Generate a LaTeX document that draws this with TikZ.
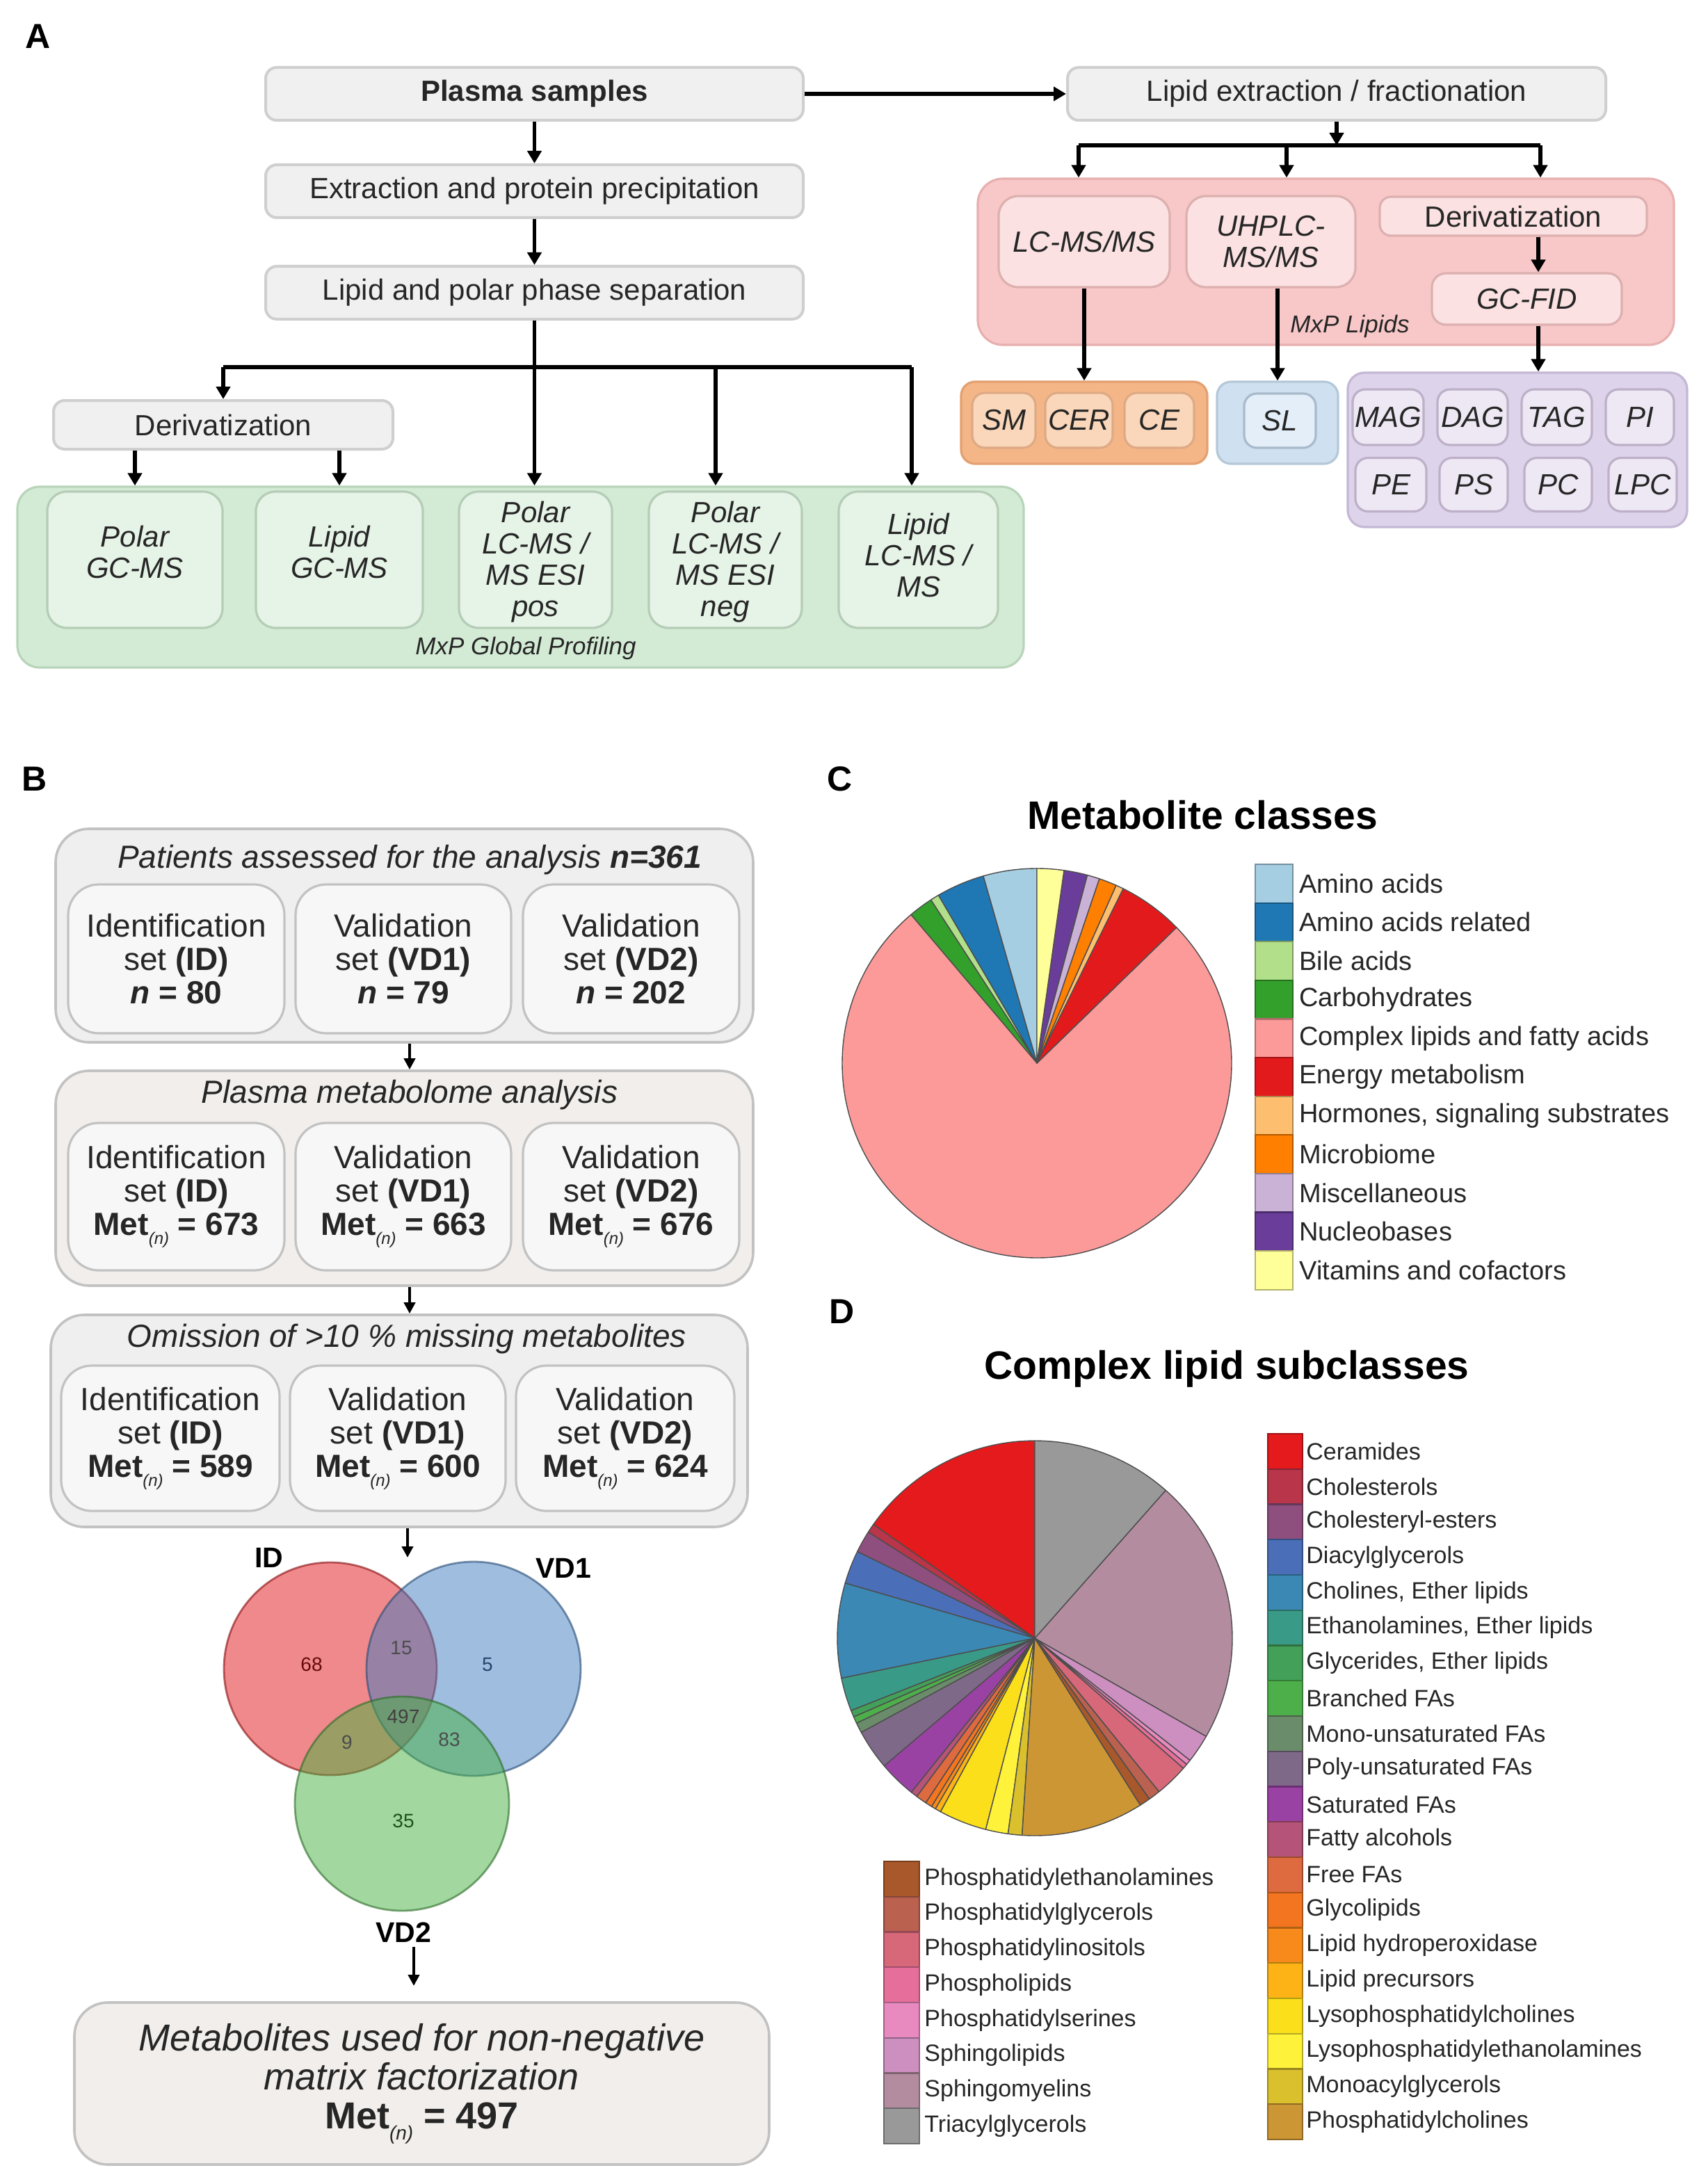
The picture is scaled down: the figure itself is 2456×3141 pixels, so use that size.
\documentclass[tikz,border=0pt]{standalone}
\usepackage{fontspec}
\setmainfont{Liberation Sans}
\usetikzlibrary{arrows.meta}

\definecolor{abfill}{HTML}{F0F0F0}
\definecolor{abdraw}{HTML}{CFCFCF}
\definecolor{greeno}{HTML}{D3EBD5}
\definecolor{greenod}{HTML}{B8D4BA}
\definecolor{greeni}{HTML}{E6F3E7}
\definecolor{greenid}{HTML}{B5CDB7}
\definecolor{pinko}{HTML}{F8C8C8}
\definecolor{pinkod}{HTML}{E8AFAF}
\definecolor{pinki}{HTML}{FBE1E1}
\definecolor{pinkid}{HTML}{DDB0B0}
\definecolor{orano}{HTML}{F5B687}
\definecolor{oranod}{HTML}{E3A070}
\definecolor{orani}{HTML}{FAD7BA}
\definecolor{oranid}{HTML}{DDAA85}
\definecolor{blueo}{HTML}{CFE1F1}
\definecolor{blueod}{HTML}{B5C8D8}
\definecolor{bluei}{HTML}{E3EEF8}
\definecolor{blueid}{HTML}{A8BACB}
\definecolor{purpo}{HTML}{DDD3EA}
\definecolor{purpod}{HTML}{C4B8D4}
\definecolor{purpi}{HTML}{EEE8F4}
\definecolor{purpid}{HTML}{BDB0C8}
\definecolor{bbfill}{HTML}{EFEFEF}
\definecolor{bbdraw}{HTML}{C2C2C2}
\definecolor{bifill}{HTML}{F7F7F7}
\definecolor{finfill}{HTML}{F1EEEB}
\definecolor{pieline}{HTML}{4D4D4D}
\definecolor{txt}{HTML}{262626}
% panel C
\definecolor{caa}{HTML}{A6CEE3}
\definecolor{car}{HTML}{1F78B4}
\definecolor{cba}{HTML}{B2DF8A}
\definecolor{cca}{HTML}{33A02C}
\definecolor{ccl}{HTML}{FB9A99}
\definecolor{cen}{HTML}{E31A1C}
\definecolor{cho}{HTML}{FDBF6F}
\definecolor{cmi}{HTML}{FF7F00}
\definecolor{cms}{HTML}{CAB2D6}
\definecolor{cnu}{HTML}{6A3D9A}
\definecolor{cvi}{HTML}{FFFF99}
% panel D
\definecolor{dce}{HTML}{E41A1C}
\definecolor{dch}{HTML}{B8354A}
\definecolor{dcs}{HTML}{8E4F7E}
\definecolor{dda}{HTML}{4A6FB8}
\definecolor{dcl}{HTML}{3A88B3}
\definecolor{det}{HTML}{3A9A88}
\definecolor{dgl}{HTML}{43A058}
\definecolor{dbr}{HTML}{4DAF4A}
\definecolor{dmo}{HTML}{6A8C6A}
\definecolor{dpo}{HTML}{7E6A88}
\definecolor{dsa}{HTML}{9A42A4}
\definecolor{dfa}{HTML}{B55478}
\definecolor{dff}{HTML}{DE6A40}
\definecolor{dgy}{HTML}{F47520}
\definecolor{dlh}{HTML}{F88A1C}
\definecolor{dlp}{HTML}{FDB216}
\definecolor{dlc}{HTML}{FBDF1A}
\definecolor{dle}{HTML}{FFF23A}
\definecolor{dma}{HTML}{D9C02C}
\definecolor{dpc}{HTML}{CC9634}
\definecolor{dpe}{HTML}{A8582A}
\definecolor{dpg}{HTML}{BA6150}
\definecolor{dpi}{HTML}{D7687A}
\definecolor{dph}{HTML}{E66E9A}
\definecolor{dps}{HTML}{E88AC0}
\definecolor{dsl}{HTML}{CC8FC0}
\definecolor{dsm}{HTML}{B38CA0}
\definecolor{dta}{HTML}{999999}
% venn
\definecolor{vid}{HTML}{E11519}
\definecolor{vvo}{HTML}{417DC1}
\definecolor{vvt}{HTML}{47B341}

\newcommand\zzA{\fontsize{21}{22.5}\selectfont}
\newcommand\zzAi{\fontsize{21}{22.5}\selectfont\itshape}
\newcommand\zzAs{\fontsize{17.5}{19}\selectfont\itshape}
\newcommand\zzB{\fontsize{23}{24}\selectfont}
\newcommand\zzBt{\fontsize{23}{24}\selectfont\itshape}
\newcommand\zzBf{\fontsize{27}{28}\selectfont}
\newcommand\zzV{\fontsize{14}{14}\selectfont}
\newcommand\zzVl{\fontsize{20.5}{21}\selectfont\bfseries}
\newcommand\zzT{\fontsize{28.5}{30}\selectfont\bfseries}
\newcommand\zzL{\fontsize{25}{26}\selectfont\bfseries}
\newcommand\zzC{\fontsize{19}{20}\selectfont}
\newcommand\zzD{\fontsize{17}{18}\selectfont}
\newcommand\zzmet{Met\raisebox{-0.55ex}{\fontsize{12}{12}\selectfont\mdseries\itshape(n)}}
\newcommand\zzmetb{Met\raisebox{-0.55ex}{\fontsize{14}{14}\selectfont\mdseries\itshape(n)}}

\begin{document}
\begin{tikzpicture}[x=0.5pt,y=-0.5pt,
  abox/.style={draw=abdraw, fill=abfill, line width=2pt, rounded corners=8pt, inner sep=0pt, align=center, text=txt, font=\zzA},
  ibox/.style={line width=1.6pt, rounded corners=14pt, inner sep=0pt, align=center, text=txt, font=\zzAi},
  gtxt/.style={inner sep=0pt, align=center, text=txt, font=\zzAi},
  cont/.style={line width=1.6pt, rounded corners=14pt, inner sep=0pt},
  arr/.style={line width=2.6pt, -{Triangle[length=9pt,width=10pt]}},
  ln/.style={line width=2.6pt},
  bouter/.style={draw=bbdraw, fill=bbfill, line width=1.8pt, rounded corners=24pt, inner sep=0pt},
  binn/.style={draw=bbdraw, fill=bifill, line width=1.6pt, rounded corners=22pt, inner sep=0pt, align=center, text=txt, font=\zzB},
  barr/.style={line width=2pt, -{Triangle[length=8pt,width=8pt]}},
  swatch/.style={line width=1.1pt},
  vnum/.style={font=\zzV, inner sep=0pt},
  vcirc/.style={circle, inner sep=0pt, fill opacity=0.5, draw opacity=0.6, line width=1.4pt},
  pl/.style={draw=pieline, line width=0.7pt, line join=round}
]
\useasboundingbox (0,0) rectangle (2456,3141);
\fill[white] (0,0) rectangle (2456,3141);

% ---------------- Panel labels ----------------
\node[font=\zzL] (labA) at (55,52) {A};
\node[font=\zzL] (labB) at (50,1120) {B};
\node[font=\zzL] (labC) at (1208,1120) {C};
\node[font=\zzL] (labD) at (1211,1886) {D};

% ---------------- Panel A, left ----------------
\node[abox, minimum width=386.5pt, minimum height=38pt] (plasma) at (768.5,135) {\textbf{Plasma samples}};
\node[abox, minimum width=386.5pt, minimum height=38pt] (extr) at (768.5,275) {Extraction and protein precipitation};
\node[abox, minimum width=386.5pt, minimum height=38pt] (phase) at (768.5,421) {Lipid and polar phase separation};
\node[abox, minimum width=244pt, minimum height=35pt] (derl) at (321,611) {Derivatization};

\node[cont, draw=greenod, fill=greeno, rounded corners=16pt, minimum width=723.5pt, minimum height=130pt] (green) at (748.5,830) {};
\node[ibox, draw=greenid, fill=greeni, minimum width=126pt, minimum height=98pt] (g1) at (194,805) {};
\node[ibox, draw=greenid, fill=greeni, minimum width=120pt, minimum height=98pt] (g2) at (488,805) {};
\node[ibox, draw=greenid, fill=greeni, minimum width=110pt, minimum height=98pt] (g3) at (770,805) {};
\node[ibox, draw=greenid, fill=greeni, minimum width=110pt, minimum height=98pt] (g4) at (1043,805) {};
\node[ibox, draw=greenid, fill=greeni, minimum width=114.5pt, minimum height=98pt] (g5) at (1320.5,805) {};
\node[gtxt] (g1t) at (194,794) {Polar\\GC-MS};
\node[gtxt] (g2t) at (488,794) {Lipid\\GC-MS};
\node[gtxt] (g3t) at (770,808) {Polar\\LC-MS /\\MS ESI\\pos};
\node[gtxt] (g4t) at (1043,808) {Polar\\LC-MS /\\MS ESI\\neg};
\node[gtxt] (g5t) at (1320.5,798) {Lipid\\LC-MS /\\MS};
\node[font=\zzAs, text=txt] (gprof) at (756,932) {MxP Global Profiling};

\draw[arr] (plasma) -- (extr);
\draw[arr] (extr) -- (phase);
\coordinate (bl) at (321,528);
\coordinate (b4) at (1029,528);
\coordinate (b5) at (1311,528);
\draw[ln] (bl) -- (b5);
\draw[arr] (phase.south) -- (phase.south |- green.north);
\draw[arr] (bl) -- (derl.north);
\draw[arr] (b4) -- (b4 |- green.north);
\draw[arr] (b5) -- (b5 |- green.north);
\draw[arr] (derl.south -| g1) -- (g1 |- green.north);
\draw[arr] (derl.south -| g2) -- (g2 |- green.north);

% ---------------- Panel A, right ----------------
\node[abox, minimum width=387pt, minimum height=38pt] (lipext) at (1922,135) {Lipid extraction / fractionation};
\draw[arr] (plasma) -- (lipext);

\node[cont, draw=pinkod, fill=pinko, rounded corners=18pt, minimum width=500.5pt, minimum height=119.5pt] (pink) at (1906.5,376.5) {};
\node[ibox, draw=pinkid, fill=pinki, minimum width=123pt, minimum height=65.5pt] (lcms) at (1559,347.5) {LC-MS/MS};
\node[ibox, draw=pinkid, fill=pinki, minimum width=121.5pt, minimum height=65.5pt] (uhplc) at (1827.5,347.5) {UHPLC-\\MS/MS};
\node[ibox, font=\zzA, draw=pinkid, fill=pinki, rounded corners=8pt, minimum width=192pt, minimum height=28pt] (derr) at (2176,311) {Derivatization};
\node[ibox, draw=pinkid, fill=pinki, rounded corners=10pt, minimum width=136.5pt, minimum height=37pt] (gcfid) at (2195.5,430) {GC-FID};
\node[font=\zzAs, text=txt] (mxpl) at (1941,469) {MxP Lipids};

\coordinate (r1) at (1551,209);
\coordinate (r2) at (1850,209);
\coordinate (r3) at (2215,209);
\draw[arr] (lipext.south) -- (lipext.south |- r1);
\draw[ln] (r1) -- (r3);
\draw[arr] (r1) -- (r1 |- pink.north);
\draw[arr] (r2) -- (r2 |- pink.north);
\draw[arr] (r3) -- (r3 |- pink.north);
\coordinate (gx) at (2212,0);

\node[cont, draw=oranod, fill=orano, rounded corners=10pt, minimum width=177pt, minimum height=59pt] (orng) at (1559,608) {};
\node[ibox, draw=oranid, fill=orani, rounded corners=9pt, minimum width=45.5pt, minimum height=39.5pt] (sm) at (1443.5,604.5) {SM};
\node[ibox, draw=oranid, fill=orani, rounded corners=9pt, minimum width=48.5pt, minimum height=39.5pt] (cer) at (1551.5,604.5) {CER};
\node[ibox, draw=oranid, fill=orani, rounded corners=9pt, minimum width=50pt, minimum height=39.5pt] (ce) at (1667,604.5) {CE};

\node[cont, draw=blueod, fill=blueo, rounded corners=10pt, minimum width=87pt, minimum height=59pt] (blu) at (1837,608) {};
\node[ibox, draw=blueid, fill=bluei, rounded corners=9pt, minimum width=51.5pt, minimum height=39pt] (sl) at (1840.5,605) {SL};

\node[cont, draw=purpod, fill=purpo, rounded corners=12pt, minimum width=244pt, minimum height=111pt] (purp) at (2182,647) {};
\node[ibox, draw=purpid, fill=purpi, rounded corners=9pt, minimum width=51pt, minimum height=40pt] (mag) at (1996,600) {MAG};
\node[ibox, draw=purpid, fill=purpi, rounded corners=9pt, minimum width=50.5pt, minimum height=40pt] (dag) at (2117.5,600) {DAG};
\node[ibox, draw=purpid, fill=purpi, rounded corners=9pt, minimum width=50.5pt, minimum height=40pt] (tag) at (2238.5,600) {TAG};
\node[ibox, draw=purpid, fill=purpi, rounded corners=9pt, minimum width=49pt, minimum height=40pt] (pi) at (2358,600) {PI};
\node[ibox, draw=purpid, fill=purpi, rounded corners=9pt, minimum width=51pt, minimum height=38.5pt] (pe) at (2000,697) {PE};
\node[ibox, draw=purpid, fill=purpi, rounded corners=9pt, minimum width=49pt, minimum height=38.5pt] (ps) at (2119,697) {PS};
\node[ibox, draw=purpid, fill=purpi, rounded corners=9pt, minimum width=48.5pt, minimum height=38.5pt] (pc) at (2240.5,697) {PC};
\node[ibox, draw=purpid, fill=purpi, rounded corners=9pt, minimum width=49pt, minimum height=38.5pt] (lpc) at (2362,697) {LPC};

\draw[arr] (derr.south -| gx) -- (gcfid.north -| gx);
\draw[arr] (lcms.south) -- (lcms.south |- orng.north);
\draw[arr] (blu.north |- uhplc.south) -- (blu.north);
\draw[arr] (gcfid.south -| gx) -- (purp.north -| gx);

% ---------------- Panel B ----------------
\node[bouter, minimum width=501.5pt, minimum height=153.5pt] (o1) at (581.5,1345.5) {};
\node[font=\zzBt, text=txt] (t1) at (589,1237) {Patients assessed for the analysis \textbf{n=361}};
\node[binn, minimum width=155.5pt, minimum height=107pt] (i11) at (253.5,1379) {Identification\\set \textbf{(ID)}\\\textbf{\textit{n} = 80}};
\node[binn, minimum width=155pt, minimum height=107pt] (i12) at (580,1379) {Validation\\set \textbf{(VD1)}\\\textbf{\textit{n} = 79}};
\node[binn, minimum width=155.5pt, minimum height=107pt] (i13) at (907.5,1379) {Validation\\set \textbf{(VD2)}\\\textbf{\textit{n} = 202}};

\node[bouter, fill=finfill, minimum width=501.5pt, minimum height=154.5pt] (o2) at (581.5,1694.5) {};
\node[font=\zzBt, text=txt] (t2) at (589,1575) {Plasma metabolome analysis};
\node[binn, minimum width=155.5pt, minimum height=106pt] (i21) at (253.5,1721) {Identification\\set \textbf{(ID)}\\\textbf{\zzmet{} = 673}};
\node[binn, minimum width=155pt, minimum height=106pt] (i22) at (580,1721) {Validation\\set \textbf{(VD1)}\\\textbf{\zzmet{} = 663}};
\node[binn, minimum width=155.5pt, minimum height=106pt] (i23) at (907.5,1721) {Validation\\set \textbf{(VD2)}\\\textbf{\zzmet{} = 676}};

\node[bouter, minimum width=501pt, minimum height=152.5pt] (o3) at (574,2043.5) {};
\node[font=\zzBt, text=txt] (t3) at (585,1926) {Omission of >10 \% missing metabolites};
\node[binn, minimum width=157pt, minimum height=104.5pt] (i31) at (245,2068.5) {Identification\\set \textbf{(ID)}\\\textbf{\zzmet{} = 589}};
\node[binn, minimum width=155pt, minimum height=104.5pt] (i32) at (572,2068.5) {Validation\\set \textbf{(VD1)}\\\textbf{\zzmet{} = 600}};
\node[binn, minimum width=157pt, minimum height=104.5pt] (i33) at (899,2068.5) {Validation\\set \textbf{(VD2)}\\\textbf{\zzmet{} = 624}};

\draw[barr] (o1.south -| t1) -- (o2.north -| t1);
\draw[barr] (o2.south -| t1) -- (o3.north -| t1);

% Venn
\node[vcirc, fill=vid, draw=vid!60!black, minimum size=153pt] (cid) at (475,2400) {};
\node[vcirc, fill=vvo, draw=vvo!60!black, minimum size=154pt] (cvo) at (681,2400) {};
\node[vcirc, fill=vvt, draw=vvt!60!black, minimum size=154pt] (cvt) at (578,2594) {};
\node[vnum, text=vid!45!black] (n68) at (448,2394) {68};
\node[vnum, text=black!70] (n15) at (577,2370) {15};
\node[vnum, text=vvo!55!black] (n5) at (701,2394) {5};
\node[vnum, text=black!75] (n497) at (580,2469) {497};
\node[vnum, text=black!70] (n9) at (499,2506) {9};
\node[vnum, text=black!70] (n83) at (646,2502) {83};
\node[vnum, text=vvt!45!black] (n35) at (580,2619) {35};
\node[font=\zzVl] (lid) at (387,2240) {ID};
\node[font=\zzVl] (lvo) at (810,2255) {VD1};
\node[font=\zzVl] (lvt) at (580,2779) {VD2};
\coordinate (va) at (586,2240);
\draw[barr] (o3.south -| va) -- (va);
\coordinate (vb) at (595,2856);
\draw[barr] (lvt.south -| vb) -- (vb);

\node[bouter, fill=finfill, minimum width=499.5pt, minimum height=116.5pt, align=center, font=\zzBf, text=txt] (fin) at (606.5,2996.5)
  {\itshape Metabolites used for non-negative\\\itshape matrix factorization\\{\upshape\bfseries\zzmetb{} = 497}};

% ---------------- Panel C ----------------
\node[font=\zzT] (tc) at (1729,1172) {Metabolite classes};
\begin{scope}[shift={(1491,1529)}, yscale=-1]
\foreach \angA/\angB/\colr in {90/106/caa, 106/120.4/car, 120.4/123/cba, 123/130.3/cca, 130.3/404.2/ccl, 404.2/423.7/cen, 423.7/426/cho, 426/431.3/cmi, 431.3/435/cms, 435/442/cnu, 442/450/cvi}
  {\fill[fill=\colr, pl] (0,0) -- (\angA:280) arc[start angle=\angA, end angle=\angB, radius=280] -- cycle;}
\end{scope}
\foreach \colr/\lab [count=\i from 0] in {caa/Amino acids, car/Amino acids related, cba/Bile acids, cca/Carbohydrates, ccl/Complex lipids and fatty acids, cen/Energy metabolism, cho/{Hormones, signaling substrates}, cmi/Microbiome, cms/Miscellaneous, cnu/Nucleobases, cvi/Vitamins and cofactors}
{
  \pgfmathsetmacro\ytop{1243+55.6*\i}
  \draw[swatch, fill=\colr, draw=\colr!70!black] (1805,\ytop) rectangle (1859,\ytop+55.6);
  \node[anchor=west, font=\zzC, inner sep=0pt, text=txt] (lc\i) at (1868,\ytop+27.8) {\lab};
}

% ---------------- Panel D ----------------
\node[font=\zzT] (td) at (1764,1969) {Complex lipid subclasses};
\begin{scope}[shift={(1488,2356)}, yscale=-1]
\foreach \angA/\angB/\colr in {90/144.8/dce, 144.8/147.5/dch, 147.5/154/dcs, 154/163.8/dda, 163.8/191.7/dcl, 191.7/201.5/det, 201.5/203.5/dgl, 203.5/205.5/dbr, 205.5/208.5/dmo, 208.5/220.3/dpo, 220.3/231.3/dsa, 231.3/233.3/dfa, 233.3/236.5/dff, 236.5/238.5/dgy, 238.5/239.8/dlh, 239.8/241.5/dlp, 241.5/255.6/dlc, 255.6/262.2/dle, 262.2/266.3/dma, 266.3/302.3/dpc, 302.3/305.5/dpe, 305.5/309/dpg, 309/318.8/dpi, 318.8/320.3/dph, 320.3/321.8/dps, 321.8/330.2/dsl, 330.2/408.5/dsm, 408.5/450/dta}
  {\fill[fill=\colr, pl] (0,0) -- (\angA:284) arc[start angle=\angA, end angle=\angB, radius=284] -- cycle;}
\end{scope}
\foreach \colr/\lab [count=\i from 0] in {dce/Ceramides, dch/Cholesterols, dcs/Cholesteryl-esters, dda/Diacylglycerols, dcl/{Cholines, Ether lipids}, det/{Ethanolamines, Ether lipids}, dgl/{Glycerides, Ether lipids}, dbr/Branched FAs, dmo/Mono-unsaturated FAs, dpo/Poly-unsaturated FAs, dsa/Saturated FAs, dfa/Fatty alcohols, dff/Free FAs, dgy/Glycolipids, dlh/Lipid hydroperoxidase, dlp/Lipid precursors, dlc/Lysophosphatidylcholines, dle/Lysophosphatidylethanolamines, dma/Monoacylglycerols, dpc/Phosphatidylcholines}
{
  \pgfmathsetmacro\ytop{2062+50.75*\i}
  \draw[swatch, fill=\colr, draw=\colr!70!black] (1823,\ytop) rectangle (1873,\ytop+50.75);
  \node[anchor=west, font=\zzD, inner sep=0pt, text=txt] (ldr\i) at (1878,\ytop+25.4) {\lab};
}
\foreach \colr/\lab [count=\i from 0] in {dpe/Phosphatidylethanolamines, dpg/Phosphatidylglycerols, dpi/Phosphatidylinositols, dph/Phospholipids, dps/Phosphatidylserines, dsl/Sphingolipids, dsm/Sphingomyelins, dta/Triacylglycerols}
{
  \pgfmathsetmacro\ytop{2677+50.75*\i}
  \draw[swatch, fill=\colr, draw=\colr!70!black] (1271,\ytop) rectangle (1322,\ytop+50.75);
  \node[anchor=west, font=\zzD, inner sep=0pt, text=txt] (ldl\i) at (1329,\ytop+25.4) {\lab};
}
\end{tikzpicture}
\end{document}
